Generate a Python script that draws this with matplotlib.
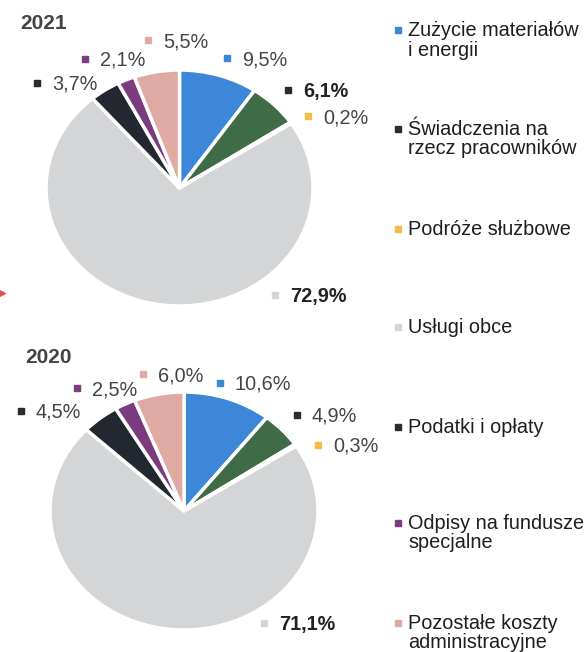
import numpy as np
import matplotlib
matplotlib.use('Agg')
import matplotlib.pyplot as plt

plt.rcParams['font.family'] = ['Liberation Sans', 'DejaVu Sans']

# data
categories = ['Zużycie materiałów\ni energii',
              'Świadczenia na\nrzecz pracowników',
              'Podróże służbowe',
              'Usługi obce',
              'Podatki i opłaty',
              'Odpisy na fundusze\nspecjalne',
              'Pozostałe koszty\nadministracyjne']
years = ['2021', '2020']
shares_2021 = [9.5, 6.1, 0.2, 72.9, 3.7, 2.1, 5.5]
shares_2020 = [10.6, 4.9, 0.3, 71.1, 4.5, 2.5, 6.0]

slice_colors = ['#3c87d8', '#3f6b46', '#f6bb45', '#d3d5d7', '#23272f', '#7a3c7e', '#dfaaa4']
key_colors = ['#3c87d8', '#2b2b2b', '#f6bb45', '#d3d5d7', '#2b2b2b', '#7a3c7e', '#dfaaa4']
bold_2021 = [False, True, False, True, False, False, False]
bold_2020 = [False, False, False, True, False, False, False]

W, H = 588, 652
fig = plt.figure(figsize=(W / 100, H / 100), dpi=100)

def px_axes(left, top, w, h):
    return fig.add_axes([left / W, 1 - (top + h) / H, w / W, h / H])

# pies: (left, top, width, height) in pixels, slightly wider than tall
pie_boxes = [(46, 70, 267, 236), (50, 392, 268, 238)]
for box, vals in zip(pie_boxes, [shares_2021, shares_2020]):
    ax = px_axes(*box)
    ax.pie(vals, colors=slice_colors, startangle=90, counterclock=False, radius=1,
           wedgeprops=dict(edgecolor='white', linewidth=2.5))
    ax.set_aspect('auto')
    ax.set_xlim(-1, 1)
    ax.set_ylim(-1, 1)
    ax.axis('off')

# overlay for text, in pixel coords
ov = fig.add_axes([0, 0, 1, 1], facecolor='none')
ov.set_xlim(0, W)
ov.set_ylim(H, 0)
ov.axis('off')

def fmt(v):
    return ('%.1f' % v).replace('.', ',') + '%'

def key(x, y, c, size=5):
    ov.plot([x], [y], marker='s', markersize=size, color=c, linestyle='none')

# year titles
title_pos = [(20, 29), (25, 363)]
for (x, y), yr in zip(title_pos, years):
    ov.text(x, y, yr, fontsize=15, fontweight='bold', color='#444444', va='baseline')

# percentage label positions (text left x, baseline y)
lab_2021 = [(242, 65), (303, 97), (323, 123), (290, 302), (52, 90), (100, 66), (163, 47)]
lab_2020 = [(235, 390), (312, 422), (333, 452), (279, 630), (36, 418), (92, 395), (158, 381)]

for vals, labs, bolds in [(shares_2021, lab_2021, bold_2021), (shares_2020, lab_2020, bold_2020)]:
    for v, (x, y), c, b in zip(vals, labs, key_colors, bolds):
        key(x - 15, y - 7, c, 4.5)
        ov.text(x, y, fmt(v), fontsize=14.3, va='baseline',
                fontweight='bold' if b else 'normal',
                color='#222222' if b else '#444444')

# legend on the right
leg_base = [36, 135, 235, 333, 433, 529, 629]
for cat, y, c in zip(categories, leg_base, key_colors):
    key(398, y - 6, c, 5)
    for i, line in enumerate(cat.split('\n')):
        ov.text(408, y + i * 19.5, line, fontsize=14.3, color='#1e1e1e', va='baseline')

# small red mark at the left edge of the scan
ov.plot([2], [293], marker='>', markersize=5, color='#e05050', linestyle='none')

fig.savefig('out.png', dpi=100)
